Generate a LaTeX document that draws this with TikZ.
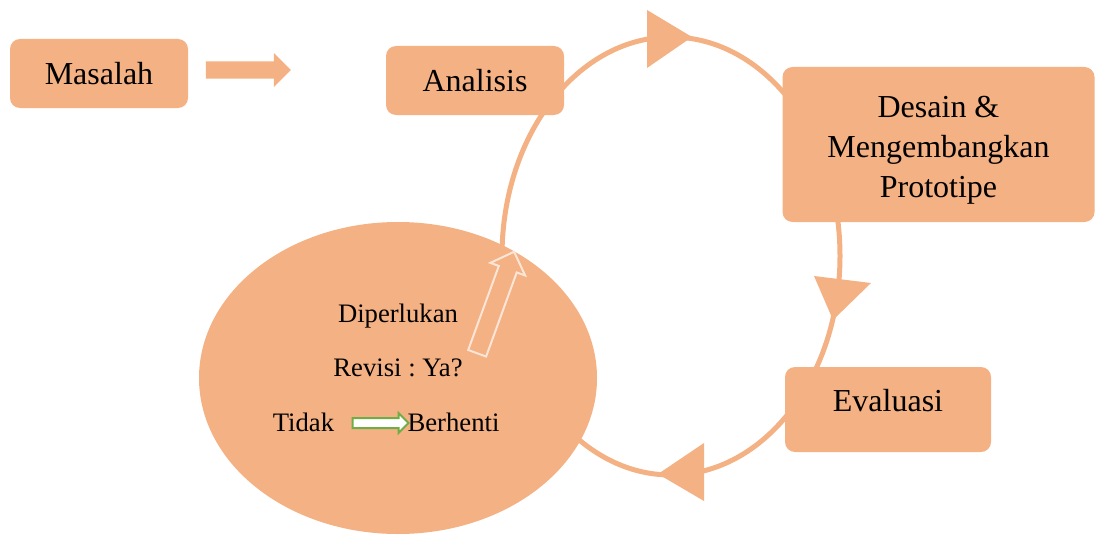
\documentclass[tikz,border=0pt]{standalone}
\usepackage{fontspec}
\setmainfont{Liberation Serif}
\usetikzlibrary{shapes.geometric,shapes.arrows}
\definecolor{peach}{HTML}{F4B183}
\definecolor{paleline}{HTML}{FBE5D6}
\definecolor{leafgreen}{HTML}{70AD47}

\begin{document}
\begin{tikzpicture}[
        x=0.75pt, y=-0.75pt,
        box/.style={fill=peach, rounded corners=7.5pt, align=center, inner sep=0pt,
            font=\fontsize{24}{30}\selectfont},
        ring/.style={draw=peach, line width=3.75pt},
        small/.style={font=\fontsize{20}{24}\selectfont\frenchspacing, inner sep=0pt, anchor=base},
        fatarrow/.style={single arrow, inner xsep=0pt, single arrow tip angle=90}
        ]
            \useasboundingbox (0,0) rectangle (1095,535);
            %\draw[help lines] (0,0) grid[step=50] (1095,535);
            
            % the cycle, behind the boxes
            \coordinate (hub) at (671,256);
            \draw[ring] (hub) ellipse [x radius=169, y radius=219];
            \fill[peach] (647,10) -- (692,37) -- (647,68) -- cycle;
            \fill[peach] (814,276) -- (871,283) -- (833,320) -- cycle;
            \fill[peach] (704,443) -- (704,501) -- (658,474) -- cycle;
            
            \node[ellipse, fill=peach, inner sep=0pt, minimum width=298.5pt, minimum height=234pt] (revisi) at (398,378) {};
            
            \node[box, minimum width=133.5pt, minimum height=51.75pt] (masalah) at (99,73.5) {Masalah};
            \node[box, minimum width=133.5pt, minimum height=51.75pt] (analisis) at (475,80.5) {Analisis};
            \node[box, minimum width=234pt, minimum height=116.25pt] (desain) at (938.5,144.5) {\rule{0pt}{24pt}Desain \&\\Mengembangkan\\Prototipe};
            \node[box, minimum width=154.5pt, minimum height=63.75pt, text depth=14pt] (evaluasi) at (888,409.5) {Evaluasi};
            
            \node[fatarrow, fill=peach, minimum height=63.75pt, inner ysep=6.2pt, single arrow head extend=6.2pt] (lanjut) at (244,70) {};
            
            \node[small] (perlu) at (398,322) {Diperlukan};
            \node[small] (ya) at (398,376) {Revisi : Ya?};
            \node[small] (tidak) at (303.5,431) {Tidak};
            \node[small] (henti) at (453.5,431) {Berhenti};
            
            \node[fatarrow, fill=white, draw=leafgreen, line width=1.5pt, minimum height=42pt, inner ysep=3pt, single arrow head extend=3.75pt] (stop) at (378,423) {};
            \node[fatarrow, draw=paleline, line width=1.5pt, rotate=70, minimum height=81pt, inner ysep=6.4pt, single arrow head extend=6.75pt] (ulang) at (494,307) {};
        \end{tikzpicture}
\end{document}
